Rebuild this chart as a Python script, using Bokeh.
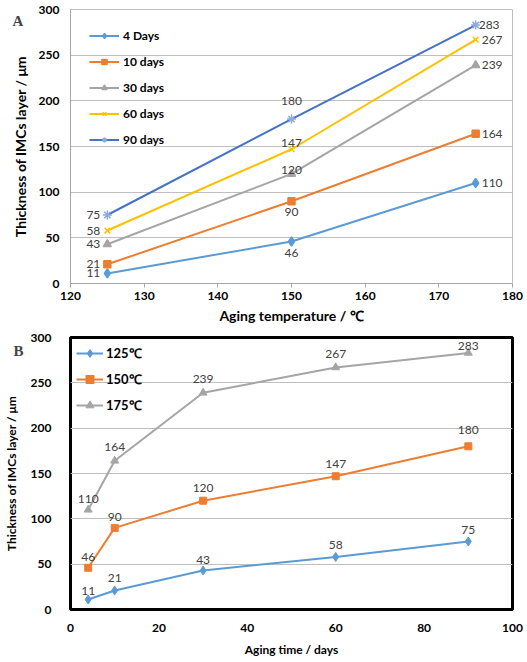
from bokeh.plotting import figure
from bokeh.models import ColumnDataSource, Legend, LegendItem, Label, FixedTicker, Range1d
from bokeh.layouts import column
from bokeh.core.properties import value
from bokeh.embed import file_html
from bokeh.resources import INLINE

# ---------------- data ----------------
temps = [125, 150, 175]
days_4 = [11, 46, 110]
days_10 = [21, 90, 164]
days_30 = [43, 120, 239]
days_60 = [58, 147, 267]
days_90 = [75, 180, 283]
series_a_names = ["4 Days", "10 days", "30 days", "60 days", "90 days"]

times = [4, 10, 30, 60, 90]
t125 = [11, 21, 43, 58, 75]
t150 = [46, 90, 120, 147, 180]
t175 = [110, 164, 239, 267, 283]
series_b_names = ["125\u2103", "150\u2103", "175\u2103"]

x_ticks_a = [120, 130, 140, 150, 160, 170, 180]
x_ticks_b = [0, 20, 40, 60, 80, 100]
y_ticks = [0, 50, 100, 150, 200, 250, 300]

# ---------------- styles ----------------
FONT = "Lato"
C_BLUE = "#5B9BD5"
C_ORANGE = "#ED7D31"
C_GRAY = "#A5A5A5"
C_GOLD = "#FFC000"
C_DBLUE = "#4472C4"
LABEL_COLOR = "#404040"


def style_axes(p, tick_size, title_size):
    for ax in (p.xaxis[0], p.yaxis[0]):
        ax.major_label_text_font = FONT
        ax.major_label_text_font_style = "bold"
        ax.major_label_text_font_size = tick_size
        ax.major_label_text_color = "#000000"
        ax.axis_label_text_font = FONT
        ax.axis_label_text_font_style = "bold"
        ax.axis_label_text_font_size = title_size
        ax.axis_label_text_color = "#000000"
        ax.minor_tick_line_color = None
    p.xgrid.grid_line_color = None
    p.ygrid.grid_line_color = "#BFBFBF"
    p.ygrid.grid_line_width = 1


def panel_letter(p, letter, dx_from_frame_right, y_from_frame_bottom):
    # placed in the right side panel (not clipped), shifted back to the top-left corner
    p.add_layout(Label(x=dx_from_frame_right, y=y_from_frame_bottom,
                       x_units="screen", y_units="screen", text=letter,
                       text_font="Liberation Serif", text_font_style="bold",
                       text_font_size="15px", text_baseline="middle", text_align="left"),
                 "right")


# ================= Panel A =================
A_W, A_H = 526, 327
A_L, A_R, A_T, A_B = 68, 14, 9, 44
pA = figure(width=A_W, height=A_H, output_backend="svg", toolbar_location=None,
            x_range=Range1d(120, 180), y_range=Range1d(0, 300),
            min_border_left=A_L, min_border_right=A_R, min_border_top=A_T, min_border_bottom=A_B)
pA.background_fill_color = "white"
pA.border_fill_color = "white"
pA.outline_line_color = "#BFBFBF"
pA.outline_line_width = 1
pA.xaxis.ticker = FixedTicker(ticks=x_ticks_a)
pA.yaxis.ticker = FixedTicker(ticks=y_ticks)
pA.xaxis.axis_label = "Aging temperature / \u2103"
pA.yaxis.axis_label = "Thickness of IMCs layer / \u03bcm"
style_axes(pA, "12px", "14px")
pA.xaxis.axis_line_color = "#A6A6A6"
pA.xaxis.major_tick_line_color = "#A6A6A6"
pA.xaxis.major_tick_out = 4
pA.xaxis.major_tick_in = 0
pA.xaxis.major_label_standoff = 4
pA.xaxis.axis_label_standoff = 4
pA.yaxis.axis_line_color = "#A6A6A6"
pA.yaxis.major_tick_out = 0
pA.yaxis.major_tick_in = 0
pA.yaxis.major_label_standoff = 11
pA.yaxis.axis_label_standoff = 7

a_series = [days_4, days_10, days_30, days_60, days_90]
a_colors = [C_BLUE, C_ORANGE, C_GRAY, C_GOLD, C_DBLUE]
a_markers = ["diamond", "square", "triangle", "x", "asterisk"]
a_marker_colors = [C_BLUE, C_ORANGE, C_GRAY, C_GOLD, "#8EA9DB"]
a_marker_sizes = [9, 7, 8, 8, 9]

items_a = []
for name, vals, col, mk, mcol, ms in zip(series_a_names, a_series, a_colors,
                                         a_markers, a_marker_colors, a_marker_sizes):
    src = ColumnDataSource(dict(x=temps, y=vals))
    r1 = pA.line("x", "y", source=src, line_color=col, line_width=2)
    r2 = pA.scatter("x", "y", source=src, marker=mk, size=ms,
                    fill_color=mcol, line_color=mcol, line_width=1.5)
    items_a.append(LegendItem(label=name, renderers=[r1, r2]))

legA = Legend(items=items_a, location="top_left", margin=9, padding=10,
              glyph_width=30, glyph_height=13, label_height=13, spacing=11,
              label_standoff=4, label_text_font=FONT, label_text_font_style="bold",
              label_text_font_size="12px", label_text_color="#000000",
              background_fill_alpha=0, border_line_alpha=0)
pA.add_layout(legA)

# data labels for panel A
mid_dy_a = [12, 11, -4, -6, -18]
right_dx_a = [6, 6, 6, 6, 3]
srcL = ColumnDataSource(dict(x=[temps[0]] * len(a_series), y=[s[0] for s in a_series],
                             t=[str(s[0]) for s in a_series]))
srcM = ColumnDataSource(dict(x=[temps[1]] * len(a_series), y=[s[1] for s in a_series],
                             t=[str(s[1]) for s in a_series], dy=mid_dy_a))
srcR = ColumnDataSource(dict(x=[temps[2]] * len(a_series), y=[s[2] for s in a_series],
                             t=[str(s[2]) for s in a_series], dx=right_dx_a))
common = dict(text_font=value(FONT), text_font_size="12px", text_color=LABEL_COLOR,
              text_baseline="middle")
pA.text("x", "y", text="t", source=srcL, text_align="right", x_offset=-7, **common)
pA.text("x", "y", text="t", source=srcM, text_align="center", y_offset="dy", **common)
pA.text("x", "y", text="t", source=srcR, text_align="left", x_offset="dx", **common)

fwA = A_W - A_L - A_R
fhA = A_H - A_T - A_B
panel_letter(pA, "A", -(A_L + fwA - 12), fhA - 11)

# ================= Panel B =================
B_W, B_H = 526, 333
B_L, B_R, B_T, B_B = 68, 14, 10, 51
pB = figure(width=B_W, height=B_H, output_backend="svg", toolbar_location=None,
            x_range=Range1d(0, 100), y_range=Range1d(0, 300),
            min_border_left=B_L, min_border_right=B_R, min_border_top=B_T, min_border_bottom=B_B)
pB.background_fill_color = "white"
pB.border_fill_color = "white"
pB.outline_line_color = "#000000"
pB.outline_line_width = 3
pB.xaxis.ticker = FixedTicker(ticks=x_ticks_b)
pB.yaxis.ticker = FixedTicker(ticks=y_ticks)
pB.xaxis.axis_label = "Aging time / days"
pB.yaxis.axis_label = "Thickness of IMCs layer / \u03bcm"
style_axes(pB, "12px", "12px")
for ax in (pB.xaxis[0], pB.yaxis[0]):
    ax.axis_line_color = None
    ax.major_tick_line_color = None
pB.xaxis.major_label_standoff = 8
pB.xaxis.axis_label_standoff = 7
pB.yaxis.major_label_standoff = 13
pB.yaxis.axis_label_standoff = 9

b_series = [t125, t150, t175]
b_colors = [C_BLUE, C_ORANGE, C_GRAY]
b_markers = ["diamond", "square", "triangle"]
b_marker_sizes = [9, 7, 8]
items_b = []
for name, vals, col, mk, ms in zip(series_b_names, b_series, b_colors, b_markers, b_marker_sizes):
    src = ColumnDataSource(dict(x=times, y=vals))
    r1 = pB.line("x", "y", source=src, line_color=col, line_width=2)
    r2 = pB.scatter("x", "y", source=src, marker=mk, size=ms,
                    fill_color=col, line_color=col, line_width=1)
    items_b.append(LegendItem(label=name, renderers=[r1, r2]))

legB = Legend(items=items_b, location="top_left", margin=2, padding=4,
              glyph_width=27, glyph_height=20, label_height=20, spacing=6,
              label_standoff=3, label_text_font=FONT, label_text_font_style="bold",
              label_text_font_size="13px", label_text_color="#000000",
              background_fill_alpha=0, border_line_alpha=0)
pB.add_layout(legB)

dy_b = [[-9, -12, -11, -12, -12],
        [-11, -11, -13, -12, -16],
        [-11, -14, -14, -13, -7]]
bx, by, bt, bdy = [], [], [], []
for vals, dys in zip(b_series, dy_b):
    for xv, yv, d in zip(times, vals, dys):
        bx.append(xv)
        by.append(yv)
        bt.append(str(yv))
        bdy.append(d)
srcB = ColumnDataSource(dict(x=bx, y=by, t=bt, dy=bdy))
pB.text("x", "y", text="t", source=srcB, text_align="center", y_offset="dy", **common)

fwB = B_W - B_L - B_R
fhB = B_H - B_T - B_B
panel_letter(pB, "B", -(B_L + fwB - 13), fhB - 13)

layout = column(pA, pB, spacing=0)
open("out.html", "w").write(file_html(layout, INLINE))
